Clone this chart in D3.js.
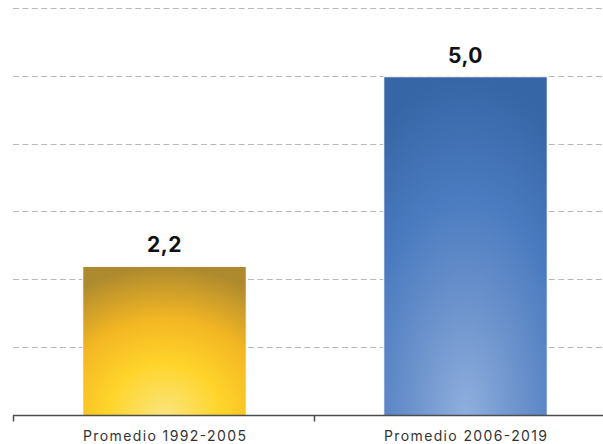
<!DOCTYPE html>
<html>
<head>
<meta charset="utf-8">
<script src="https://cdn.jsdelivr.net/npm/d3@7"></script>
<style>
  html, body { margin: 0; padding: 0; background: #fff; }
  svg { display: block; }
</style>
</head>
<body>
<svg id="chart" width="603" height="444"></svg>
<script>
const categories = ["Promedio 1992-2005", "Promedio 2006-2019"];
const values = [2.2, 5.0];
const valueLabels = ["2,2", "5,0"];
const yTicks = [0, 1, 2, 3, 4, 5, 6];

(function () {
const svg = d3.select("#chart");
const W = 603, H = 444;
const mLeft = 14, mRight = 616, mTop = 9, mBottom = 415.5;

const x = d3.scaleBand().domain(categories).range([mLeft, mRight])
  .paddingInner(0.457).paddingOuter(0.2285);
const y = d3.scaleLinear().domain([0, 6]).range([mBottom, mTop]);

const defs = svg.append("defs");
const gradDefs = [
  { id: "gYellow", stops: [[0, "#fae57e"], [0.35, "#ffd42a"], [0.65, "#f3b623"], [1, "#ae8a2e"]] },
  { id: "gBlue", stops: [[0, "#8fafde"], [0.35, "#6a91cb"], [0.65, "#4a7bc0"], [1, "#3766a6"]] }
];
gradDefs.forEach(g => {
  const rg = defs.append("radialGradient").attr("id", g.id)
    .attr("cx", "50%").attr("cy", "100%").attr("r", "100%")
    .attr("fx", "50%").attr("fy", "100%");
  g.stops.forEach(s => rg.append("stop").attr("offset", s[0]).attr("stop-color", s[1]));
});
const fills = ["url(#gYellow)", "url(#gBlue)"];

// gridlines
svg.append("g").attr("class", "grid").selectAll("path")
  .data(yTicks.filter(t => t > 0))
  .join("path")
  .attr("d", d => `M13,${Math.round(y(d)) - 0.5}H${W}`)
  .attr("fill", "none")
  .attr("stroke", "#b8b8b8").attr("stroke-width", 1.2)
  .attr("stroke-dasharray", "6,3.4");

// bars
svg.append("g").selectAll("rect")
  .data(categories)
  .join("rect")
  .attr("x", d => x(d))
  .attr("width", x.bandwidth())
  .attr("y", (d, i) => y(values[i]))
  .attr("height", (d, i) => y(0) - y(values[i]))
  .attr("fill", (d, i) => fills[i])
  .attr("stroke", "#ffffff").attr("stroke-width", 1);

// value labels
svg.append("g").selectAll("text")
  .data(categories)
  .join("text")
  .attr("x", d => x(d) + x.bandwidth() / 2)
  .attr("y", (d, i) => y(values[i]) - 14)
  .attr("text-anchor", "middle")
  .attr("font-family", "Inter, 'Open Sans', sans-serif")
  .attr("font-weight", 700)
  .attr("font-size", 21)
  .attr("letter-spacing", 0.5)
  .attr("fill", "#111")
  .text((d, i) => valueLabels[i]);

// x axis
const xAxis = d3.axisBottom(x).tickSize(0).tickPadding(0);
const ax = svg.append("g").attr("transform", `translate(0,${mBottom})`).call(xAxis);
ax.select(".domain").remove();
ax.selectAll(".tick text")
  .attr("y", 25.5)
  .attr("dy", 0)
  .attr("font-family", "Inter, 'Open Sans', sans-serif")
  .attr("font-size", 14)
  .attr("fill", "#333")
  .attr("textLength", 163)
  .attr("lengthAdjust", "spacing");
svg.append("line")
  .attr("x1", 13).attr("x2", W)
  .attr("y1", mBottom).attr("y2", mBottom)
  .attr("stroke", "#4d4d4d").attr("stroke-width", 1.5);
// category boundary ticks
const boundaries = [mLeft, mLeft + x.step()];
svg.append("g").selectAll("line")
  .data(boundaries)
  .join("line")
  .attr("x1", d => Math.round(d) - 0.5).attr("x2", d => Math.round(d) - 0.5)
  .attr("y1", mBottom).attr("y2", mBottom + 6)
  .attr("stroke", "#4d4d4d").attr("stroke-width", 1.5);
})();
</script>
</body>
</html>
